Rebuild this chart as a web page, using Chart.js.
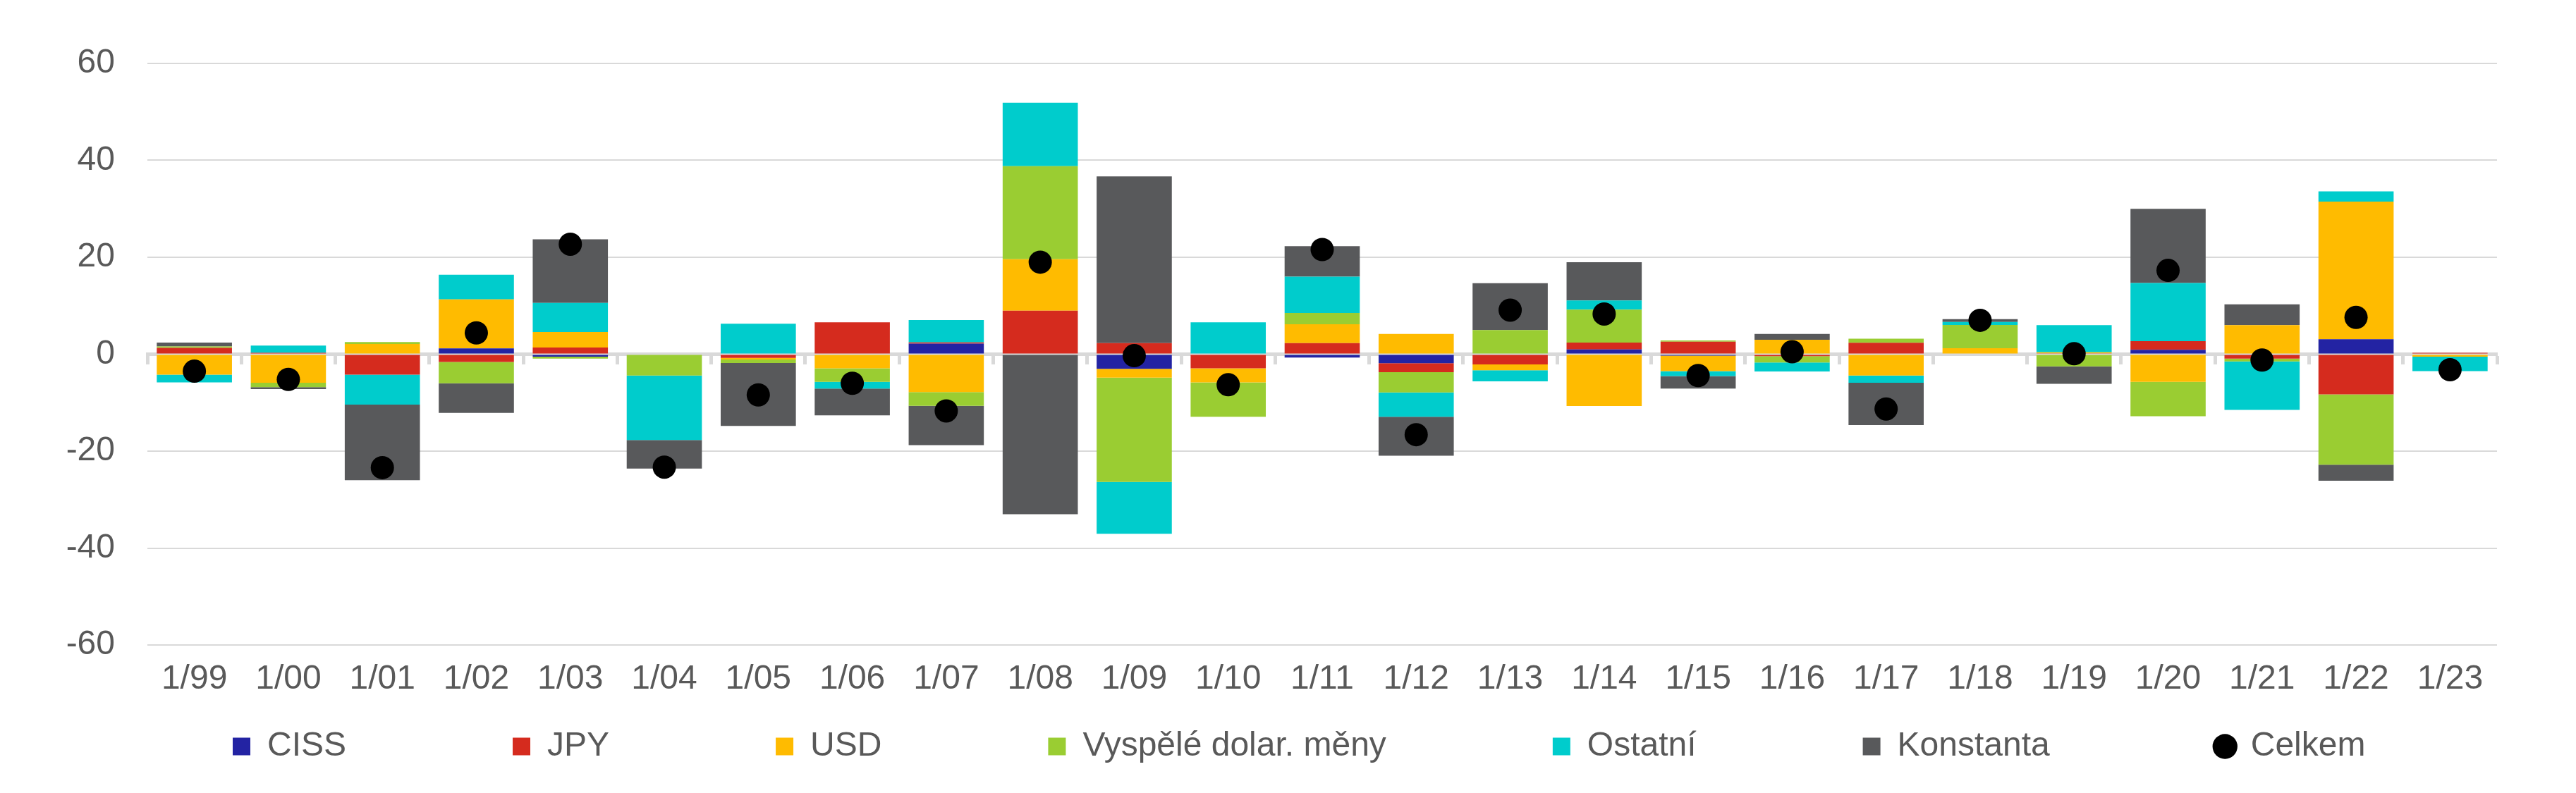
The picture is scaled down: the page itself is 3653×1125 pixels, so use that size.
<!DOCTYPE html>
<html lang="cs">
<head>
<meta charset="utf-8">
<title>Příspěvky k vývoji</title>
<script src="https://cdn.jsdelivr.net/npm/chart.js@4.4.1/dist/chart.umd.min.js"></script>
<style>
  html, body { margin: 0; padding: 0; background: #fff; }
  #wrap { width: 3653px; height: 1125px; }
</style>
</head>
<body>
<div id="wrap"><canvas id="chart" width="3653" height="1125"></canvas></div>
<script>
const labels = ["1/99", "1/00", "1/01", "1/02", "1/03", "1/04", "1/05", "1/06", "1/07", "1/08", "1/09", "1/10", "1/11",
  "1/12", "1/13", "1/14", "1/15", "1/16", "1/17", "1/18", "1/19", "1/20", "1/21", "1/22", "1/23"];

const ciss = [0, 0, 0, 1.2, -0.5, 0, 0, 0, 2.2, 0, -3.0, 0, -0.7,
  -1.85, 0, 1.0, -0.3, 0, 0, 0, 0, 0.9, 0, 3.1, 0];
const jpy = [1.3, 0.3, -4.2, -1.6, 1.4, 0, -0.75, 6.6, 0.25, 9.0, 2.3, -2.9, 2.3,
  -1.85, -2.1, 1.4, 2.6, -0.4, 2.35, 0, 0.2, 1.8, -0.9, -8.3, 0.3];
const usd = [-4.2, -5.9, 2.1, 10.1, 3.2, 0, -0.35, -2.9, -7.8, 10.6, -1.85, -2.9, 3.9,
  4.2, -1.2, -10.7, -3.2, 3.0, -4.4, 1.25, 0.2, -5.7, 6.0, 28.4, -0.5];
const vyspele = [0.3, -0.9, 0.4, -4.4, -0.4, -4.4, -0.7, -2.8, -2.85, 19.2, -21.5, -7.1, 2.3,
  -4.2, 5.0, 6.8, 0.25, -1.3, 0.85, 4.8, -2.5, -7.1, -0.6, -14.5, 0];
const ostatni = [-1.6, 1.5, -6.2, 5.1, 6.0, -13.3, 6.3, -1.4, 4.6, 13.1, -10.7, 6.6, 7.5,
  -5.0, -2.3, 1.9, -1.0, -1.85, -1.5, 0.6, 5.6, 12.0, -10.0, 2.1, -3.0];
const konstanta = [0.8, -0.4, -15.6, -6.1, 13.1, -5.9, -13.0, -5.5, -8.1, -33.0, 34.4, 0, 6.3,
  -8.05, 9.65, 7.9, -2.6, 1.2, -8.7, 0.6, -3.6, 15.3, 4.3, -3.3, 0];
const celkem = [-3.5, -5.2, -23.4, 4.4, 22.7, -23.3, -8.4, -6.0, -11.7, 19.0, -0.3, -6.3, 21.6,
  -16.6, 9.1, 8.3, -4.4, 0.5, -11.3, 7.0, 0.1, 17.3, -1.2, 7.6, -3.2];

const yTicks = [-60, -40, -20, 0, 20, 40, 60];

const GRID = "#d9d9d9";
const TEXT = "#595959";
const LEGEND_GAP = 236;
const LEGEND_TOP = 20;

Chart.defaults.font.family = '"Liberation Sans", Arial, sans-serif';
Chart.defaults.font.size = 48;
Chart.defaults.color = TEXT;

// Excel spreads the legend entries wide; Chart.js uses the same padding
// vertically, so shrink the legend box back to a single row height.
const legendSpread = {
  id: "legendSpread",
  afterInit(chart) {
    const legend = chart.legend;
    const fit = legend.fit;
    legend.fit = function () {
      fit.call(this);
      this.height -= LEGEND_GAP - LEGEND_TOP;
    };
    const draw = legend.draw;
    legend.draw = function () {
      const top = this.top;
      this.top -= LEGEND_GAP - LEGEND_TOP;
      draw.call(this);
      this.top = top;
    };
  },
};

function barSet(label, data, color) {
  return {
    type: "bar",
    label: label,
    data: data,
    backgroundColor: color,
    borderWidth: 0,
    stack: "parts",
    barPercentage: 0.8,
    categoryPercentage: 1.0,
  };
}

const ctx = document.getElementById("chart");

new Chart(ctx, {
  data: {
    labels: labels,
    datasets: [
      barSet("CISS", ciss, "#2323a3"),
      barSet("JPY", jpy, "#d52b1e"),
      barSet("USD", usd, "#ffbb00"),
      barSet("Vyspělé dolar. měny", vyspele, "#9acd32"),
      barSet("Ostatní", ostatni, "#00cccc"),
      barSet("Konstanta", konstanta, "#58595b"),
      {
        type: "line",
        label: "Celkem",
        data: celkem,
        stack: "total",
        order: -1,
        showLine: false,
        pointStyle: "circle",
        pointRadius: 16.5,
        pointHoverRadius: 16.5,
        pointBorderWidth: 0,
        backgroundColor: "#000",
        pointBackgroundColor: "#000",
        borderColor: "#000",
      },
    ],
  },
  options: {
    responsive: false,
    animation: false,
    layout: {
      padding: { left: 94, right: 20, top: 90, bottom: 32 },
    },
    plugins: {
      tooltip: { enabled: false },
      legend: {
        position: "bottom",
        align: "start",
        labels: {
          usePointStyle: true,
          boxWidth: 25,
          boxHeight: 25,
          padding: LEGEND_GAP,
          color: TEXT,
          font: { size: 48 },
          sort: (a, b) => a.datasetIndex - b.datasetIndex,
          generateLabels: (chart) =>
            Chart.defaults.plugins.legend.labels.generateLabels(chart).map((item) => ({
              ...item,
              pointStyle: item.datasetIndex === 6 ? "circle" : "rect",
              lineWidth: 0,
            })),
        },
      },
    },
    scales: {
      x: {
        stacked: true,
        grid: { display: false },
        border: { display: false },
        ticks: { padding: 12, maxRotation: 0, autoSkip: false, color: TEXT },
        afterFit: (axis) => {
          axis.height = 100;
        },
      },
      // zero line with Excel-style tick marks between the categories
      x2: {
        type: "category",
        labels: labels,
        position: { y: 0 },
        offset: true,
        z: 1,
        grid: {
          offset: true,
          drawOnChartArea: false,
          drawTicks: true,
          tickLength: 12,
          tickWidth: 5,
          tickColor: GRID,
        },
        border: { display: true, color: GRID, width: 5 },
        ticks: { display: false },
      },
      y: {
        stacked: true,
        min: -60,
        max: 60,
        afterBuildTicks: (axis) => {
          axis.ticks = yTicks.map((v) => ({ value: v }));
        },
        afterFit: (axis) => {
          axis.width = 115;
        },
        grid: { color: GRID, lineWidth: 2, drawTicks: false },
        border: { display: false },
        ticks: { padding: 46, color: TEXT },
      },
      // empty right margin, so the legend can use the full width
      yRight: {
        type: "linear",
        position: "right",
        grid: { drawOnChartArea: false, drawTicks: false },
        border: { display: false },
        ticks: { display: false },
        afterFit: (axis) => {
          axis.width = 92;
        },
      },
    },
  },
  plugins: [legendSpread],
});
</script>
</body>
</html>
